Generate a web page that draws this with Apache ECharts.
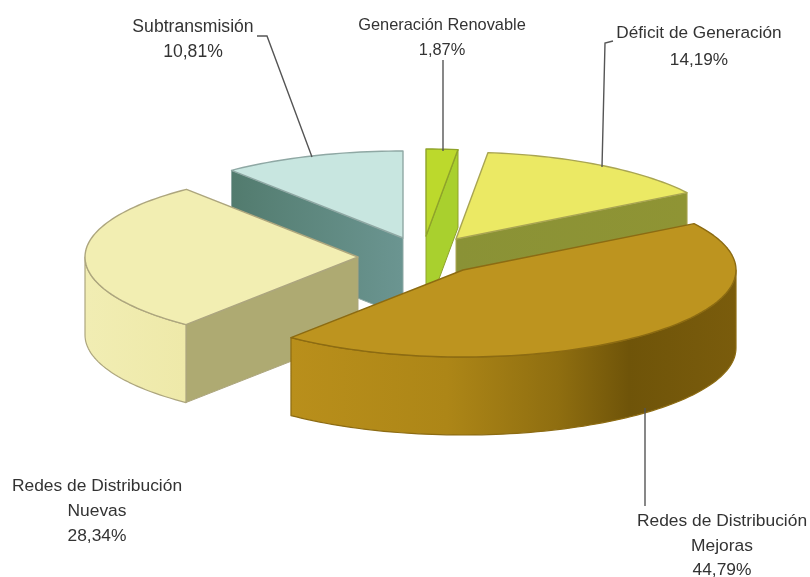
<!DOCTYPE html>
<html><head><meta charset="utf-8">
<style>html,body{margin:0;padding:0;background:#fff}#c{width:810px;height:577px;filter:blur(0.55px)}</style>
<script src="https://cdn.jsdelivr.net/npm/echarts@6/dist/echarts.min.js"></script>
</head><body><div id="c"></div>
<script>
// Data, in clockwise order from 12 o'clock
const categories = ['Generación Renovable','Déficit de Generación','Redes de Distribución Mejoras','Redes de Distribución Nuevas','Subtransmisión'];
const values = [1.87,14.19,44.79,28.34,10.81];
const labelLines = [['Generación Renovable'],['Déficit de Generación'],['Redes de Distribución','Mejoras'],['Redes de Distribución','Nuevas'],['Subtransmisión']];

// Layout and style
const RX=273, RY=87, DEPTH=78;
const drawOrder=[4,0,1,3,2];
const apex=[[426,236],[456,239],[463,270],[358,257],[403,238]];
const looks=[
 {top:'#bcd92c',edge:'#8fa32a',cut:'#a9d02e',wall:'#a9d02e'},
 {top:'#ebe964',edge:'#a9a552',cut:[[0,'#8a9236'],[1,'#8f9434']],wall:'#8f9434'},
 {top:'#bd941f',edge:'#8c6b12',cut:'#b78e1a',wall:[[0,'#b98f1b'],[0.35,'#ad8617'],[0.6,'#8f6e10'],[0.76,'#6f5409'],[1,'#7a5c0c']]},
 {top:'#f2eeb2',edge:'#ada67e',cut:'#aeaa72',wall:[[0,'#f1edb3'],[1,'#eee9a9']]},
 {top:'#c8e6e0',edge:'#8fa8a4',cut:[[0,'#527b6e'],[1,'#6b9591']],wall:'#5e8a80'}
];
const leaders=[
 [[443,60],[443,151]],
 [[613,41],[605,43],[602,167]],
 [[645,408],[645,506]],
 [],
 [[257,36],[267,36],[312,157]]
];
const textPos=[
 {x:442,y:[25,50],size:16.4},
 {x:699,y:[33,60],size:17.2},
 {x:722,y:[521,546,570],size:17.4},
 {x:97,y:[486,511,536],size:17.4},
 {x:193,y:[27,52],size:17.6}
];

function pct(v){return v.toFixed(2).replace('.',',')+'%';}
function pt(c,deg,dy){const t=deg*Math.PI/180;return [c[0]+RX*Math.sin(t),c[1]-RY*Math.cos(t)+(dy||0)];}
function arc(c,a,b,dy){const out=[],n=Math.max(2,Math.ceil(Math.abs(b-a)/1.5));for(let i=0;i<=n;i++)out.push(pt(c,a+(b-a)*i/n,dy));return out;}
function paint(f,x0,x1){return Array.isArray(f)?{type:'linear',x:x0,y:0,x2:x1,y2:0,global:true,colorStops:f.map(s=>({offset:s[0],color:s[1]}))}:f;}
function poly(points,fill,stroke,w){return {type:'polygon',shape:{points},style:{fill,stroke,lineWidth:w,lineJoin:'round'}};}

const total=values.reduce((a,b)=>a+b,0);
const starts=[];values.reduce((acc,v,i)=>{starts[i]=acc;return acc+v;},0);

function renderSlice(params,api){
 const i=api.value(1), v=api.value(0);
 const a=starts[i]/total*360, b=a+v/total*360;
 const c=apex[i], s=looks[i], kids=[];
 const sin=d=>Math.sin(d*Math.PI/180);
 // cut faces that turn towards the viewer
 [[a,sin(a)<-1e-6],[b,sin(b)>1e-6]].forEach(([d,show])=>{
  if(!show)return;
  const r=pt(c,d),r2=pt(c,d,DEPTH),c2=[c[0],c[1]+DEPTH];
  kids.push(poly([c,r,r2,c2],paint(s.cut,Math.min(c[0],r[0]),Math.max(c[0],r[0])),s.edge,1));
 });
 // outer wall on the front half
 const w0=Math.max(a,90),w1=Math.min(b,270);
 if(w1>w0){
  const up=arc(c,w0,w1),lo=arc(c,w1,w0,DEPTH);
  const xs=up.map(p=>p[0]);
  kids.push(poly(up.concat(lo),paint(s.wall,Math.min(...xs),Math.max(...xs)),s.edge,1.2));
 }
 // top face
 kids.push(poly([c].concat(arc(c,a,b)),s.top,s.edge,1.4));
 return {type:'group',children:kids};
}

const graphics=[];
categories.forEach((name,i)=>{
 if(leaders[i].length)graphics.push({type:'polyline',z:20,shape:{points:leaders[i]},style:{fill:null,stroke:'#555',lineWidth:1.4}});
 labelLines[i].concat([pct(values[i])]).forEach((line,k)=>{
  graphics.push({type:'text',z:21,x:textPos[i].x,y:textPos[i].y[k],style:{text:line,fill:'#333',font:textPos[i].size+'px "Liberation Sans"',textAlign:'center',textVerticalAlign:'middle'}});
 });
});

const chart=echarts.init(document.getElementById('c'),null,{renderer:'canvas'});
chart.setOption({
 animation:false,
 backgroundColor:'#ffffff',
 series:[{type:'custom',coordinateSystem:'none',renderItem:renderSlice,silent:true,
  dimensions:['share','slice'],encode:{value:0},
  data:drawOrder.map(i=>({name:categories[i],value:[values[i],i]}))}],
 graphic:{elements:graphics}
});
</script></body></html>
